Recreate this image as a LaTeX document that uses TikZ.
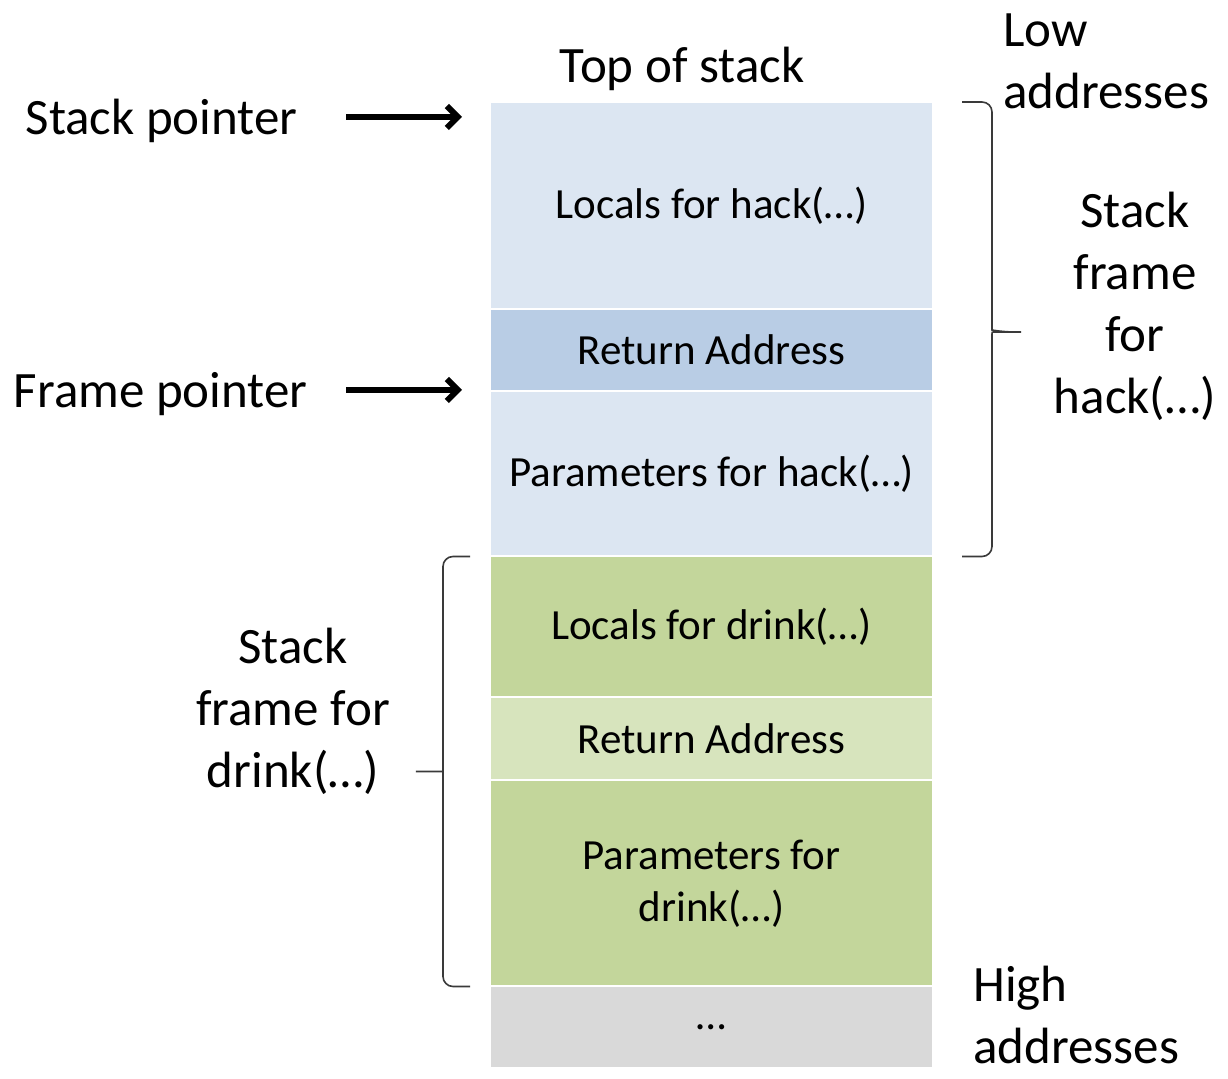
\documentclass[tikz,border=0pt]{standalone}
\usepackage{fontspec}
\setmainfont{Carlito}
\usepackage{tikz}
\usetikzlibrary{positioning, arrows.meta}
\definecolor{hackpale}{HTML}{DCE6F2}
\definecolor{hackret}{HTML}{B9CDE5}
\definecolor{drinkpale}{HTML}{C3D69B}
\definecolor{drinkret}{HTML}{D7E4BD}
\definecolor{restgray}{HTML}{D9D9D9}
\definecolor{inkgray}{HTML}{3A3A3A}

\begin{document}
\begin{tikzpicture}[
    x=0.5pt, y=-0.5pt,
    node distance=0pt,
    every node/.style={align=center},
    slot/.style={rectangle, draw=white, line width=1pt, inner sep=0pt, outer sep=0pt, minimum width=221.5pt, font=\fontsize{21.5}{26}\selectfont},
    caption/.style={inner sep=0pt, font=\fontsize{25.5}{31}\selectfont},
    pointer/.style={-{Straight Barb[length=5.5pt, width=11pt]}, line width=3pt},
    bracket/.style={draw=inkgray, line width=0.8pt, rounded corners=5pt}
]
\useasboundingbox (0,0) rectangle (1228,1079);

% Stack slots
\node[slot, fill=hackpale, minimum height=103.5pt, anchor=north west] (hlocals) at (490,102) {Locals for hack(…)};
\node[slot, fill=hackret, minimum height=41pt, below=of hlocals] (hret) {Return Address};
\node[slot, fill=hackpale, minimum height=82.75pt, below=of hret] (hparams) {Parameters for hack(…)};
\node[slot, fill=drinkpale, minimum height=70.25pt, below=of hparams] (dlocals) {Locals for drink(…)};
\node[slot, fill=drinkret, minimum height=41.5pt, below=of dlocals] (dret) {Return Address};
\node[slot, fill=drinkpale, minimum height=103.25pt, below=of dret] (dparams) {Parameters for\\drink(…)};
\node[slot, fill=restgray, minimum height=40.75pt, below=of dparams] (rest) {…};

% Labels
\node[caption] (top) at (682,69) {Top of stack};
\node[caption, anchor=west, align=left] (low) at (1003,61) {Low\\addresses};
\node[caption, anchor=west, align=left] (high) at (973,1015) {High\\addresses};
\node[caption, anchor=base east] (sp) at (298,135) {Stack pointer};
\node[caption, anchor=base east] (fp) at (308,408) {Frame pointer};
\node[caption] (hframe) at (1135,306) {Stack\\frame\\for\\hack(…)};
\node[caption] (dframe) at (293,711) {Stack\\frame for\\drink(…)};

% Arrows
\draw[pointer, shorten <=24pt, shorten >=14pt] ([yshift=9pt]sp.base east) -- ([yshift=9pt]sp.base east -| hlocals.west);
\draw[pointer, shorten <=19pt, shorten >=14pt] ([yshift=9pt]fp.base east) -- ([yshift=9pt]fp.base east -| hret.west);

% Braces
\draw[bracket] ([xshift=14.5pt]hlocals.north east) -- ++(30,0) -- ++(0,218)
    .. controls ++(0,10) .. ++(12,12) -- ++(23,0) -- ++(-23,0) .. controls ++(-12,0) .. ++(-12,12)
    -- ++(0,212.5) -- ([xshift=14.5pt]hparams.south east);
\draw[bracket] ([xshift=-10pt]dlocals.north west) -- ++(-27,0) -- ++(0,203)
    .. controls ++(0,12) .. ++(-10,12) -- ++(-23,0) -- ++(23,0) .. controls ++(10,0) .. ++(10,12)
    -- ++(0,203) -- ([xshift=-10pt]dparams.south west);

\end{tikzpicture}
\end{document}
